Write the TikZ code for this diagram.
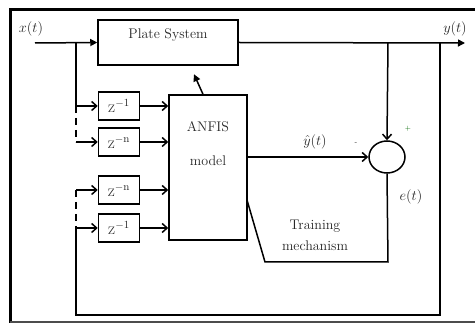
\documentclass[tikz,border=0pt]{standalone}
\usepackage{amsmath}
\usetikzlibrary{arrows.meta,shapes.geometric}

\begin{document}
\begin{tikzpicture}[x=1pt,y=-1pt,line width=1.5pt,
every node/.style={font=\fontsize{14}{16}\selectfont,text=black!85},
blk/.style={draw,rectangle,inner sep=0pt},
dly/.style={draw,rectangle,minimum width=41pt,minimum height=28pt,inner sep=0pt,font=\fontsize{16}{18}\selectfont},
barb/.style={-{Straight Barb[length=5pt,width=9pt]}},
tri/.style={-{Triangle[length=7pt,width=7pt]}}]
\useasboundingbox (0,0) rectangle (475,323);
\draw[line width=3pt] (476,10) -- (10,10) -- (10,323);
\draw[line width=1.5pt,black!70] (10,322) -- (476,322);
\node[blk,minimum width=140pt,minimum height=45pt] (plant) at (168,42.5) {};
\node (plantlbl) at (168,35) {Plate System};
\node[blk,minimum width=78pt,minimum height=145pt] (anfis) at (208,167.5) {};
\node (anfislbl) at (208,127) {ANFIS};
\node (modellbl) at (208,161) {model};
\node[draw,ellipse,minimum width=36pt,minimum height=32pt,inner sep=0pt] (sum) at (387,157) {};
\coordinate (xin) at (35,43);
\coordinate (br) at (76,43);
\coordinate (bot) at (76,315);
\coordinate (fbbot) at (440,315);
\coordinate (fb) at (440,43);
\coordinate (ytap) at (388,43);
\coordinate (yout) at (465,43);
\coordinate (trb) at (388,262);
\coordinate (trl) at (265,262);
\coordinate (tra) at (247,200);
\foreach \n/\y/\e in {1/106/-1,2/142/-n,3/190/-n,4/228/-1} {
\node[dly] (d\n) at (119,\y) {$\mathrm{z}^{\mathrm{\e}}$};
\coordinate (t\n) at (76,\y);
\draw[barb] (t\n) -- (d\n.west);
\draw[barb] (d\n.east) -- (d\n.east -| anfis.west);
}
\draw[tri] (xin) -- (plant.west);
\draw (br) -- (t1);
\draw[dash pattern=on 7pt off 5pt] (t1) -- (t2);
\draw[dash pattern=on 7pt off 5pt] (t3) -- (t4);
\draw (t4) -- (bot) -- (fbbot) -- (fb);
\draw[tri] (plant.east) -- (yout);
\draw[barb] (ytap) -- (sum.north);
\draw[barb] (anfis.east |- sum.west) -- (sum.west);
\draw (sum.south) -- (trb) -- (trl) -- (tra);
\draw[tri] ([xshift=-5pt]anfis.north) -- ++(-9,-20);
\node (xlbl) at (31,29) {$x(t)$};
\node (ylbl) at (455,29) {$y(t)$};
\node (yhatlbl) at (315,142) {$\hat{y}(t)$};
\node[font=\scriptsize] (minus) at (356,144) {-};
\node[font=\scriptsize,text=green!40!black] (plus) at (408,129) {+};
\node (elbl) at (411,197) {$e(t)$};
\node (trlbl) at (315,226) {Training};
\node (mechlbl) at (315,246) {mechanism};
\end{tikzpicture}
\end{document}
